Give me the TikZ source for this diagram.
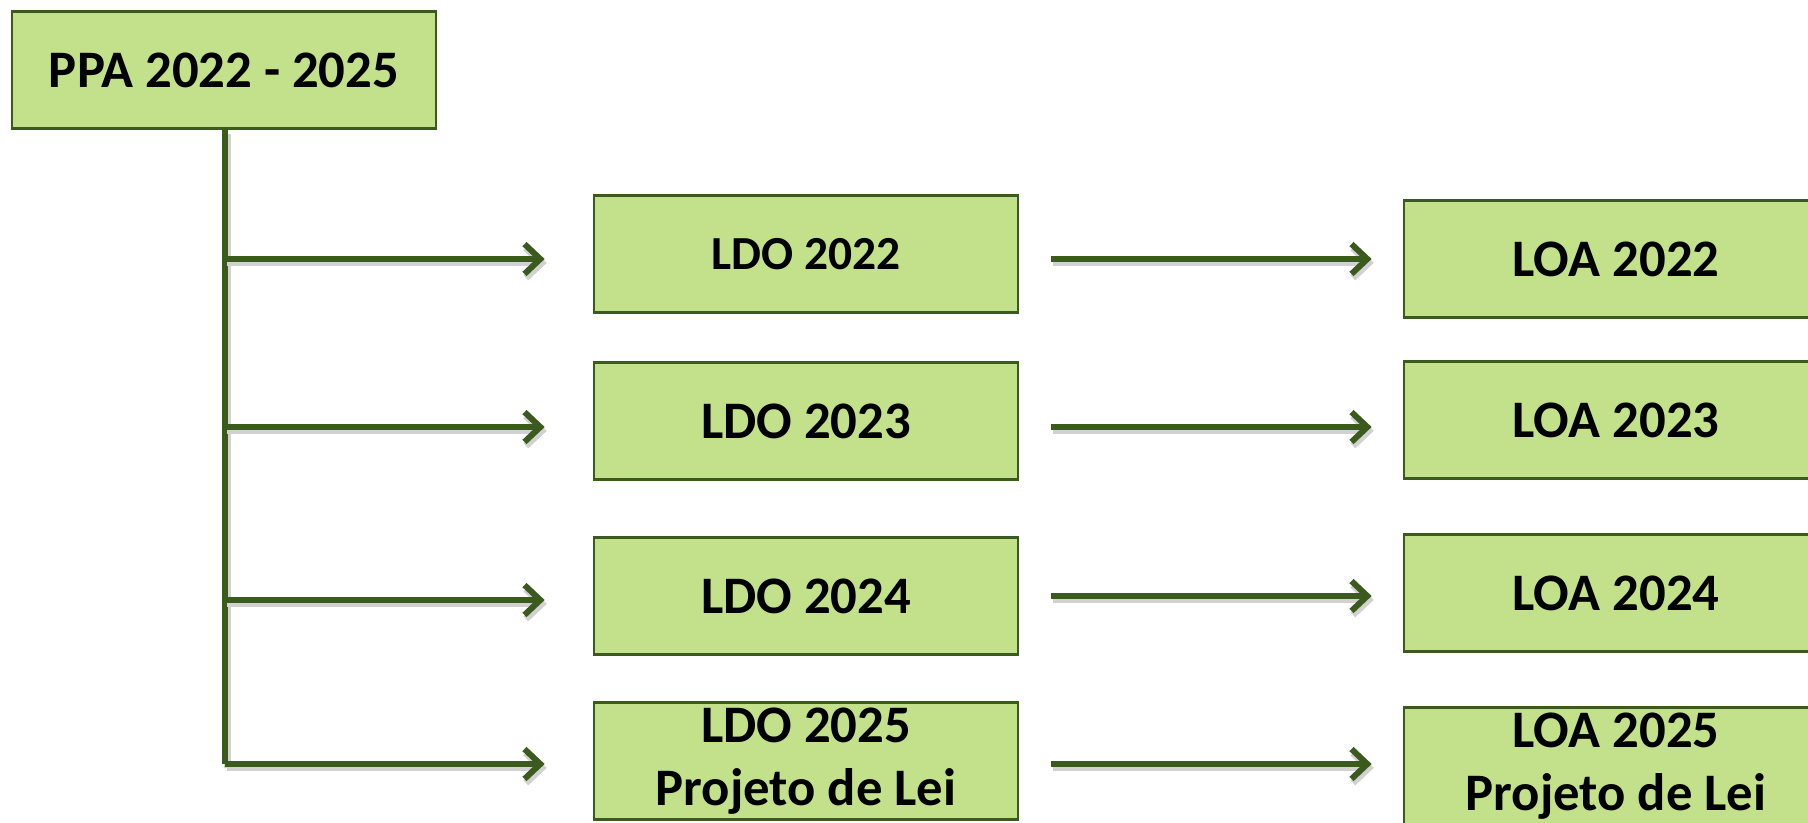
\documentclass[tikz,border=0pt]{standalone}
\usepackage{fontspec}
\setmainfont{Carlito}
\usetikzlibrary{arrows.meta, positioning}
\definecolor{boxgreen}{HTML}{C3E18B}
\definecolor{linegreen}{HTML}{3A5A1E}
\tikzset{
  lawbox/.style={draw=linegreen, fill=boxgreen, line width=1.6pt, minimum width=8.48cm, minimum height=2.34cm, inner sep=0pt, align=center, font=\fontsize{30}{36}\selectfont\bfseries},
  flow/.style={draw=linegreen, line width=3.4pt, preaction={draw=black!18, line width=4pt, transform canvas={xshift=1.2pt, yshift=-2.2pt}}},
  flowarrow/.style={flow, -{Straight Barb[length=9pt, width=17pt]}}
}

\begin{document}
\begin{tikzpicture}[x=0.02cm, y=-0.02cm]
\clip (0,0) rectangle (1808,822);
\node[lawbox] (ppa) at (224,70) {PPA 2022 - 2025};
% LDO column
\node[lawbox, font=\fontsize{27}{32}\selectfont\bfseries] (ldo22) at (806,254) {LDO 2022};
\node[lawbox] (ldo23) at (806,421) {LDO 2023};
\node[lawbox] (ldo24) at (806,596) {LDO 2024};
\node[lawbox] (ldo25) at (806,761) {LDO 2025\\Projeto de Lei};
% LOA column
\node[lawbox] (loa22) at (1616,259) {LOA 2022};
\node[lawbox] (loa23) at (1616,420) {LOA 2023};
\node[lawbox] (loa24) at (1616,593) {LOA 2024};
\node[lawbox] (loa25) at (1616,766) {LOA 2025\\Projeto de Lei};
% trunk
\coordinate (b1) at (225,259);
\coordinate (b2) at (225,427);
\coordinate (b3) at (225,600);
\coordinate (b4) at (225,764);
\draw[flow] (ppa.south -| b4) -- (b4);
\draw[flowarrow, shorten >=0.96cm] (b1) -- (b1 -| ldo22.west);
\draw[flowarrow, shorten >=0.96cm] (b2) -- (b2 -| ldo23.west);
\draw[flowarrow, shorten >=0.96cm] (b3) -- (b3 -| ldo24.west);
\draw[flowarrow, shorten >=0.96cm] (b4) -- (b4 -| ldo25.west);
\draw[flowarrow, shorten <=0.64cm, shorten >=0.62cm] (ldo22.east |- loa22) -- (loa22.west);
\draw[flowarrow, shorten <=0.64cm, shorten >=0.62cm] (ldo23.east |- b2) -- (b2 -| loa23.west);
\draw[flowarrow, shorten <=0.64cm, shorten >=0.62cm] (ldo24.east |- ldo24) -- (ldo24 -| loa24.west);
\draw[flowarrow, shorten <=0.64cm, shorten >=0.62cm] (ldo25.east |- b4) -- (b4 -| loa25.west);
\end{tikzpicture}
\end{document}
